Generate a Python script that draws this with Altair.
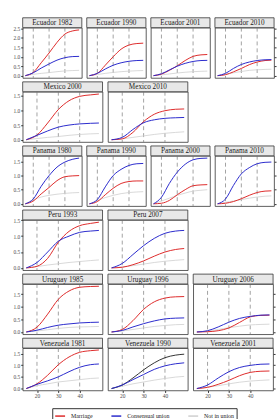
import altair as alt
import pandas as pd

ages = [15, 20, 25, 30, 35, 40, 45, 49]
xlines = [20, 30, 40]

# ---- Ecuador ----
ecu1982_m = [0, 0.17, 0.68, 1.20, 1.76, 2.20, 2.37, 2.42]
ecu1982_c = [0, 0.15, 0.40, 0.62, 0.82, 0.95, 1.01, 1.02]
ecu1982_n = [0, 0.07, 0.12, 0.16, 0.21, 0.25, 0.27, 0.28]
ecu1990_m = [0, 0.12, 0.55, 1.00, 1.40, 1.62, 1.70, 1.72]
ecu1990_c = [0, 0.12, 0.35, 0.55, 0.68, 0.76, 0.80, 0.81]
ecu1990_n = [0, 0.06, 0.12, 0.17, 0.21, 0.24, 0.26, 0.27]
ecu2001_m = [0, 0.08, 0.28, 0.52, 0.80, 1.02, 1.10, 1.12]
ecu2001_c = [0, 0.10, 0.30, 0.50, 0.65, 0.75, 0.80, 0.81]
ecu2001_n = [0, 0.04, 0.09, 0.14, 0.18, 0.21, 0.23, 0.24]
ecu2010_m = [0, 0.05, 0.20, 0.38, 0.58, 0.72, 0.80, 0.82]
ecu2010_c = [0, 0.12, 0.38, 0.59, 0.72, 0.80, 0.84, 0.85]
ecu2010_n = [0, 0.06, 0.15, 0.22, 0.28, 0.31, 0.33, 0.34]
# ---- Mexico ----
mex2000_m = [0, 0.16, 0.57, 1.03, 1.33, 1.48, 1.53, 1.56]
mex2000_c = [0, 0.15, 0.30, 0.43, 0.50, 0.54, 0.56, 0.57]
mex2000_n = [0, 0.04, 0.08, 0.11, 0.15, 0.18, 0.20, 0.21]
mex2010_m = [0, 0.03, 0.25, 0.62, 0.87, 0.99, 1.04, 1.05]
mex2010_c = [0, 0.08, 0.35, 0.58, 0.68, 0.73, 0.75, 0.76]
mex2010_n = [0, 0.03, 0.08, 0.13, 0.18, 0.22, 0.25, 0.27]
# ---- Panama ----
pan1980_m = [0, 0.10, 0.35, 0.58, 0.82, 0.96, 0.99, 1.00]
pan1980_c = [0, 0.17, 0.62, 1.00, 1.30, 1.48, 1.58, 1.62]
pan1980_n = [0, 0.14, 0.24, 0.30, 0.34, 0.37, 0.39, 0.40]
pan1990_m = [0, 0.08, 0.32, 0.55, 0.72, 0.79, 0.81, 0.81]
pan1990_c = [0, 0.15, 0.60, 1.00, 1.22, 1.36, 1.42, 1.43]
pan1990_n = [0, 0.12, 0.22, 0.30, 0.36, 0.40, 0.42, 0.43]
pan2000_m = [0, 0.02, 0.12, 0.32, 0.50, 0.64, 0.67, 0.68]
pan2000_c = [0, 0.23, 0.72, 1.12, 1.40, 1.56, 1.61, 1.62]
pan2000_n = [0, 0.10, 0.20, 0.30, 0.38, 0.45, 0.48, 0.50]
pan2010_m = [0, 0.02, 0.08, 0.18, 0.30, 0.40, 0.45, 0.46]
pan2010_c = [0, 0.17, 0.65, 1.06, 1.28, 1.42, 1.47, 1.48]
pan2010_n = [0, 0.05, 0.10, 0.15, 0.20, 0.24, 0.27, 0.28]
# ---- Peru ----
per1993_m = [0, 0.05, 0.30, 0.81, 1.15, 1.33, 1.40, 1.44]
per1993_c = [0, 0.17, 0.50, 0.84, 1.00, 1.12, 1.16, 1.18]
per1993_n = [0, 0.04, 0.09, 0.13, 0.17, 0.20, 0.23, 0.25]
per2007_m = [0, 0.02, 0.10, 0.22, 0.37, 0.50, 0.58, 0.61]
per2007_c = [0, 0.14, 0.42, 0.70, 0.93, 1.09, 1.16, 1.18]
per2007_n = [0, 0.03, 0.07, 0.12, 0.17, 0.21, 0.24, 0.26]
# ---- Uruguay ----
uru1985_m = [0, 0.19, 0.71, 1.30, 1.63, 1.78, 1.81, 1.82]
uru1985_c = [0, 0.07, 0.18, 0.27, 0.32, 0.36, 0.38, 0.39]
uru1985_n = [0, 0.04, 0.09, 0.14, 0.18, 0.20, 0.21, 0.22]
uru1996_m = [0, 0.10, 0.45, 0.90, 1.20, 1.35, 1.40, 1.41]
uru1996_c = [0, 0.06, 0.20, 0.33, 0.44, 0.52, 0.55, 0.56]
uru1996_n = [0, 0.04, 0.10, 0.16, 0.22, 0.26, 0.29, 0.30]
uru2006_m = [0, 0.01, 0.05, 0.16, 0.38, 0.60, 0.66, 0.67]
uru2006_c = [0, 0.05, 0.20, 0.39, 0.54, 0.62, 0.67, 0.68]
uru2006_n = [0, 0.03, 0.10, 0.17, 0.23, 0.28, 0.30, 0.31]
# ---- Venezuela ----
ven1981_m = [0, 0.20, 0.57, 1.02, 1.35, 1.55, 1.62, 1.65]
ven1981_c = [0, 0.18, 0.33, 0.50, 0.72, 0.91, 1.02, 1.05]
ven1981_n = [0, 0.12, 0.20, 0.28, 0.33, 0.38, 0.43, 0.45]
ven1990_m = [0, 0.15, 0.45, 0.80, 1.10, 1.32, 1.43, 1.47]
ven1990_c = [0, 0.15, 0.38, 0.60, 0.82, 0.97, 1.06, 1.10]
ven1990_n = [0, 0.10, 0.20, 0.28, 0.36, 0.43, 0.49, 0.52]
ven2001_m = [0, 0.05, 0.18, 0.35, 0.55, 0.69, 0.74, 0.75]
ven2001_c = [0, 0.15, 0.45, 0.72, 0.90, 0.99, 1.04, 1.05]
ven2001_n = [0, 0.06, 0.12, 0.20, 0.27, 0.32, 0.35, 0.37]

rows = [
    ("Ecuador", [("1982", ecu1982_m, ecu1982_c, ecu1982_n),
                 ("1990", ecu1990_m, ecu1990_c, ecu1990_n),
                 ("2001", ecu2001_m, ecu2001_c, ecu2001_n),
                 ("2010", ecu2010_m, ecu2010_c, ecu2010_n)], [0, 0.5, 1.0, 1.5, 2.0, 2.5]),
    ("Mexico", [("2000", mex2000_m, mex2000_c, mex2000_n),
                ("2010", mex2010_m, mex2010_c, mex2010_n)], [0, 0.5, 1.0, 1.5]),
    ("Panama", [("1980", pan1980_m, pan1980_c, pan1980_n),
                ("1990", pan1990_m, pan1990_c, pan1990_n),
                ("2000", pan2000_m, pan2000_c, pan2000_n),
                ("2010", pan2010_m, pan2010_c, pan2010_n)], [0, 0.5, 1.0, 1.5]),
    ("Peru", [("1993", per1993_m, per1993_c, per1993_n),
              ("2007", per2007_m, per2007_c, per2007_n)], [0, 0.5, 1.0, 1.5]),
    ("Uruguay", [("1985", uru1985_m, uru1985_c, uru1985_n),
                 ("1996", uru1996_m, uru1996_c, uru1996_n),
                 ("2006", uru2006_m, uru2006_c, uru2006_n)], [0, 0.5, 1.0, 1.5, 2.0]),
    ("Venezuela", [("1981", ven1981_m, ven1981_c, ven1981_n),
                   ("1990", ven1990_m, ven1990_c, ven1990_n),
                   ("2001", ven2001_m, ven2001_c, ven2001_n)], [0, 0.5, 1.0, 1.5]),
]

series_dom = ["Marriage", "Consensual union", "Not in union", "Marriage "]
series_col = ["#dd2a2a", "#2a2acc", "#cfcfcf", "#333333"]
FONT = "Liberation Serif"
STRIP_H = 10

def panel(country, year, m, c, n, w, h, ydom, yticks, left, right, bottom):
    mkey = "Marriage " if (country == "Venezuela" and year == "1990") else "Marriage"
    recs = []
    for s, vals in ((mkey, m), ("Consensual union", c)):
        for a, v in zip(ages, vals):
            recs.append({"age": a, "value": v, "series": s})
    df_main = pd.DataFrame(recs)
    df_gray = pd.DataFrame({"age": ages, "value": n, "series": "Not in union"})
    xaxis = alt.Axis(values=xlines, format="d", title=None) if bottom else None
    xs = alt.Scale(domain=[13.3, 50.7], nice=False, zero=False)
    if left:
        yaxis = alt.Axis(values=yticks, format=".1f", orient="left", title=None)
    elif right:
        yaxis = alt.Axis(values=yticks, labels=False, orient="right", title=None)
    else:
        yaxis = None
    ys = alt.Scale(domain=ydom, nice=False, zero=False)
    color = alt.Color("series:N", scale=alt.Scale(domain=series_dom, range=series_col),
                      legend=alt.Legend(values=series_dom[:3], title=None))
    rules = alt.Chart(pd.DataFrame({"x": xlines})).mark_rule(
        color="#8a8a8a", strokeDash=[4, 3], strokeWidth=0.8
    ).encode(x=alt.X("x:Q", scale=xs, axis=xaxis, title=None))
    gray = alt.Chart(df_gray).mark_line(interpolate="monotone", strokeWidth=0.8).encode(
        x=alt.X("age:Q", scale=xs, axis=xaxis, title=None),
        y=alt.Y("value:Q", scale=ys, axis=yaxis, title=None),
        color=color,
    )
    main = alt.Chart(df_main).mark_line(interpolate="monotone", strokeWidth=1).encode(
        x=alt.X("age:Q", scale=xs, axis=xaxis, title=None),
        y=alt.Y("value:Q", scale=ys, axis=yaxis, title=None),
        color=color,
        detail="series:N",
    )
    strip = alt.Chart(pd.DataFrame({"t": [f"{country} {year}"]})).mark_rect(
        fill="#e8e8e8", stroke="#333333", strokeWidth=0.8
    ).encode(x=alt.value(0), x2=alt.value(w), y=alt.value(-STRIP_H), y2=alt.value(0))
    label = alt.Chart(pd.DataFrame({"t": [f"{country} {year}"]})).mark_text(
        font=FONT, fontSize=7.3, color="#1a1a1a", baseline="middle", align="center"
    ).encode(text="t:N", x=alt.value(w / 2), y=alt.value(-STRIP_H / 2 + 0.5))
    return alt.layer(rules, gray, main, strip, label).properties(width=w, height=h)

row_charts = []
for ri, (country, surveys, yticks) in enumerate(rows):
    allv = [v for s in surveys for arr in s[1:] for v in arr]
    mx = max(allv)
    ydom = [-0.05 * mx, 1.05 * mx]
    k = len(surveys)
    w = 60 if k == 4 else 81
    full = (k >= 3)
    last_row = (ri == len(rows) - 1)
    h = 43 if last_row else 51
    panels = []
    for i, (yr, m, c, n) in enumerate(surveys):
        panels.append(panel(country, yr, m, c, n, w, h, ydom, yticks,
                            left=(i == 0), right=(full and i == k - 1), bottom=last_row))
    row_charts.append(alt.hconcat(*panels, spacing=3 if k == 4 else 3.5))

chart = alt.vconcat(*row_charts, spacing=1).resolve_scale(color="shared").properties(
    padding={"left": 12, "top": 14, "right": 2, "bottom": 0}
).configure_view(
    stroke="#333333", strokeWidth=0.8
).configure_axis(
    labelFont=FONT, labelFontSize=5.5, labelColor="#4d4d4d", tickColor="#333333",
    tickSize=2, labelPadding=1, domain=False, grid=False, title=None
).configure_legend(
    orient="none", legendX=30, legendY=386, direction="horizontal",
    symbolType="stroke", symbolSize=100, symbolStrokeWidth=1.5,
    labelFont=FONT, labelFontSize=6, labelColor="#1a1a1a",
    strokeColor="#333333", padding=2, columnPadding=16, labelOffset=5,
)

chart.save("out.html", embed_options={"renderer": "svg", "actions": False})
